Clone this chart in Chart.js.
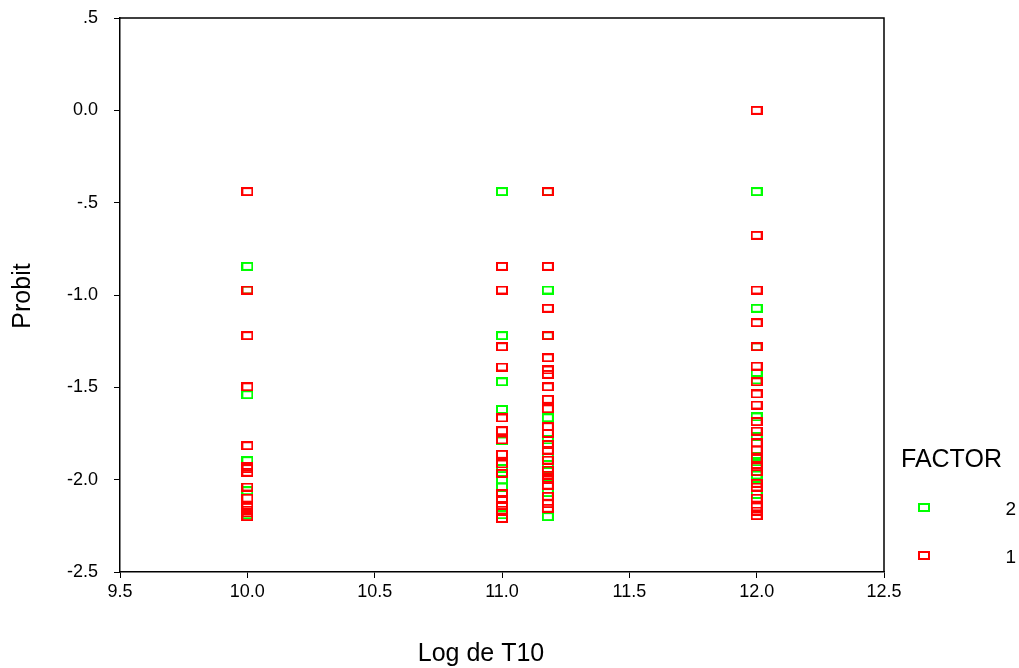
<!DOCTYPE html>
<html>
<head>
<meta charset="utf-8">
<script src="https://cdn.jsdelivr.net/npm/chart.js@4.4.1/dist/chart.umd.min.js"></script>
<style>
  html, body { margin: 0; padding: 0; background: #fff; }
  #wrap { width: 1019px; height: 668px; position: relative; }
</style>
</head>
<body>
<div id="wrap"><canvas id="chart"></canvas></div>
<script>
// ---- data ----
const xTicks = [9.5, 10.0, 10.5, 11.0, 11.5, 12.0, 12.5];
const yTicks = [0.5, 0.0, -0.5, -1.0, -1.5, -2.0, -2.5];

// FACTOR = 1 (red)
const f1X = [
  10.0, 10.0, 10.0, 10.0, 10.0, 10.0, 10.0, 10.0, 10.0, 10.0, 10.0, 10.0, 10.0, 10.0,
  11.0, 11.0, 11.0, 11.0, 11.0, 11.0, 11.0, 11.0, 11.0, 11.0, 11.0, 11.0, 11.0, 11.0, 11.0,
  11.18, 11.18, 11.18, 11.18, 11.18, 11.18, 11.18, 11.18, 11.18, 11.18, 11.18, 11.18, 11.18, 11.18,
  11.18, 11.18, 11.18, 11.18, 11.18, 11.18, 11.18, 11.18,
  12.0, 12.0, 12.0, 12.0, 12.0, 12.0, 12.0, 12.0, 12.0, 12.0, 12.0, 12.0, 12.0, 12.0, 12.0, 12.0,
  12.0, 12.0, 12.0, 12.0, 12.0, 12.0
];
const f1Y = [
  -0.44, -0.973, -1.22, -1.497, -1.816, -1.93, -1.94, -1.96, -2.04, -2.10, -2.15, -2.165, -2.20, -2.18,
  -0.845, -0.973, -1.28, -1.39, -1.666, -1.735, -1.785, -1.863, -1.915, -1.966, -2.076, -2.11, -2.14, -2.165, -2.21,
  -0.44, -0.845, -1.072, -1.22, -1.34, -1.406, -1.43, -1.497, -1.565, -1.616, -1.713, -1.75, -1.81, -1.84,
  -1.894, -1.948, -1.975, -2.0, -2.03, -2.09, -2.13, -2.155,
  0.0, -0.677, -0.973, -1.15, -1.28, -1.385, -1.47, -1.536, -1.596, -1.686, -1.737, -1.80, -1.84, -1.885, -1.93, -1.957,
  -2.02, -2.04, -2.10, -2.147, -2.17, -2.195
];

// FACTOR = 2 (green)
const f2X = [
  10.0, 10.0, 10.0, 10.0, 10.0, 10.0,
  11.0, 11.0, 11.0, 11.0, 11.0, 11.0, 11.0, 11.0, 11.0,
  11.18, 11.18, 11.18, 11.18, 11.18, 11.18, 11.18, 11.18, 11.18, 11.18,
  12.0, 12.0, 12.0, 12.0, 12.0, 12.0, 12.0, 12.0, 12.0, 12.0, 12.0, 12.0
];
const f2Y = [
  -0.845, -0.973, -1.54, -1.897, -2.06, -2.19,
  -0.44, -1.22, -1.47, -1.62, -1.79, -1.94, -2.0, -2.04, -2.19,
  -0.44, -0.973, -1.22, -1.665, -1.785, -1.88, -1.917, -1.984, -2.07, -2.20,
  -0.44, -1.072, -1.28, -1.424, -1.46, -1.66, -1.767, -1.872, -1.903, -1.975, -1.993, -2.08
];

const RED = '#ff0000';
const GREEN = '#00ff00';
const FONT = '"Liberation Sans", Arial, sans-serif';

// ---- outlined rectangle marker ----
function boxMarker(color) {
  const c = document.createElement('canvas');
  c.width = 12; c.height = 9;
  const g = c.getContext('2d');
  g.strokeStyle = color;
  g.lineWidth = 2;
  g.strokeRect(1, 1, 10, 7);
  return c;
}

const toPts = (xs, ys) => xs.map((x, i) => ({ x, y: ys[i] }));

function fmtY(v) {
  let s = v.toFixed(1);
  if (Math.abs(v) < 1 && v !== 0) s = s.replace('0.', '.');
  return s;
}

// frame (top/right), axis titles, FACTOR legend
const framePlugin = {
  id: 'frame',
  afterDraw(chart) {
    const { ctx, chartArea: a } = chart;
    ctx.save();
    ctx.strokeStyle = '#000';
    ctx.lineWidth = 1.5;
    ctx.beginPath();
    ctx.moveTo(a.left, a.top);
    ctx.lineTo(a.right, a.top);
    ctx.lineTo(a.right, a.bottom);
    ctx.stroke();

    ctx.fillStyle = '#000';
    ctx.textBaseline = 'middle';

    // axis titles
    ctx.font = '25px ' + FONT;
    ctx.textAlign = 'center';
    ctx.fillText('Log de T10', 481, 654);
    ctx.save();
    ctx.translate(23, 296);
    ctx.rotate(-Math.PI / 2);
    ctx.fillText('Probit', 0, 0);
    ctx.restore();

    // legend
    ctx.textAlign = 'left';
    ctx.font = '25px ' + FONT;
    ctx.fillText('FACTOR', 901, 460);
    ctx.font = '19px ' + FONT;
    ctx.textAlign = 'right';
    ctx.fillText('2', 1016, 510);
    ctx.fillText('1', 1016, 558);
    ctx.drawImage(boxMarker(GREEN), 918, 503);
    ctx.drawImage(boxMarker(RED), 918, 551);
    ctx.restore();
  }
};

const tickFont = { family: FONT, size: 18 };

new Chart(document.getElementById('chart'), {
  type: 'scatter',
  data: {
    datasets: [
      { label: '1', data: toPts(f1X, f1Y), pointStyle: boxMarker(RED), pointRadius: 5 },
      { label: '2', data: toPts(f2X, f2Y), pointStyle: boxMarker(GREEN), pointRadius: 5 }
    ]
  },
  options: {
    responsive: true,
    maintainAspectRatio: false,
    animation: false,
    events: [],
    layout: { padding: { left: 0, top: 18, right: 135, bottom: 0 } },
    plugins: { legend: { display: false }, tooltip: { enabled: false } },
    scales: {
      x: {
        type: 'linear',
        min: 9.5, max: 12.5,
        afterBuildTicks: s => { s.ticks = xTicks.map(v => ({ value: v })); },
        afterFit: s => { s.height = 96; s.paddingLeft = 0; s.paddingRight = 0; },
        grid: { drawOnChartArea: false, drawTicks: true, tickLength: 6, color: '#000' },
        border: { color: '#000', width: 1.5 },
        ticks: { color: '#000', font: tickFont, padding: 3, maxRotation: 0, callback: v => v.toFixed(1) }
      },
      y: {
        type: 'linear',
        min: -2.5, max: 0.5,
        afterBuildTicks: s => { s.ticks = yTicks.map(v => ({ value: v })); },
        afterFit: s => { s.width = 120; s.paddingTop = 0; s.paddingBottom = 0; },
        grid: { drawOnChartArea: false, drawTicks: true, tickLength: 6, color: '#000' },
        border: { color: '#000', width: 1.5 },
        ticks: { color: '#000', font: tickFont, padding: 16, callback: v => fmtY(v) }
      }
    }
  },
  plugins: [framePlugin]
});
</script>
</body>
</html>
